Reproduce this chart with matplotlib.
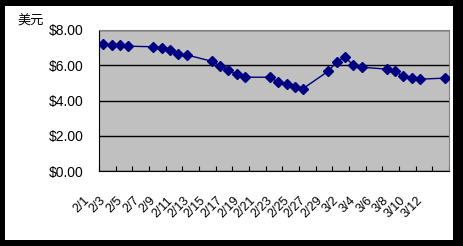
import numpy as np
import matplotlib
matplotlib.use("Agg")
import matplotlib.pyplot as plt
import matplotlib.dates as mdates
from matplotlib.patches import Rectangle
from matplotlib.transforms import ScaledTranslation

# trading days (year 2000) and closing price in US dollars
dates = ["2000-02-01", "2000-02-02", "2000-02-03", "2000-02-04",
         "2000-02-07", "2000-02-08", "2000-02-09", "2000-02-10", "2000-02-11",
         "2000-02-14", "2000-02-15", "2000-02-16", "2000-02-17", "2000-02-18",
         "2000-02-21", "2000-02-22", "2000-02-23", "2000-02-24", "2000-02-25",
         "2000-02-28", "2000-02-29", "2000-03-01", "2000-03-02", "2000-03-03",
         "2000-03-06", "2000-03-07", "2000-03-08", "2000-03-09", "2000-03-10",
         "2000-03-13"]
prices = [7.20, 7.14, 7.14, 7.08,
          7.05, 6.99, 6.88, 6.65, 6.59,
          6.23, 5.97, 5.72, 5.49, 5.32,
          5.32, 5.04, 4.93, 4.76, 4.68,
          5.66, 6.18, 6.46, 6.02, 5.89,
          5.78, 5.66, 5.38, 5.27, 5.21,
          5.27]
y_ticks = [0, 2, 4, 6, 8]
y_labels = ["$0.00", "$2.00", "$4.00", "$6.00", "$8.00"]
start, end = "2000-02-01", "2000-03-14"

W, H = 464, 246
fig = plt.figure(figsize=(W / 100, H / 100), dpi=100, facecolor="black")
fig.add_artist(Rectangle((5 / W, 1 - 240 / H), 448 / W, 234 / H,
                         transform=fig.transFigure, facecolor="white",
                         edgecolor="none", zorder=-10))

ax = fig.add_axes([99 / W, 1 - 171 / H, 350 / W, 141 / H])
ax.set_facecolor("#C0C0C0")

# points sit in the middle of each day slot
x = np.array(dates, dtype="datetime64[D]") + np.timedelta64(12, "h")
ax.plot(x, prices, color="#000080", lw=1, marker="D", ms=4.8,
        mec="#000080", mfc="#000080", zorder=3)

ax.set_xlim(np.datetime64(start), np.datetime64(end))
ax.set_ylim(0, 8)
ax.set_yticks(y_ticks)
ax.set_yticklabels(y_labels, fontsize=10, family="Liberation Sans")
ax.tick_params(axis="y", length=0, pad=11)
ax.grid(axis="y", color="black", lw=1)
ax.set_axisbelow(True)

# tick marks every two days, labels in the middle of each pair
edges = np.arange(np.datetime64(start), np.datetime64(end) + 1, 2)
mids = edges[:-1] + np.timedelta64(1, "D")
labs = [f"{int(str(d)[5:7])}/{int(str(d)[8:10])}" for d in edges[:-1]]
ax.set_xticks(mdates.date2num(edges), [""] * len(edges))
ax.set_xticks(mdates.date2num(mids), labs, minor=True)
ax.tick_params(axis="x", which="major", direction="in", length=3.5, width=0.8)
ax.tick_params(axis="x", which="minor", length=0, pad=17)

off = ScaledTranslation(-16 / 100, 0, fig.dpi_scale_trans)
for lab in ax.get_xticklabels(minor=True):
    lab.set_rotation(45)
    lab.set_ha("right")
    lab.set_va("top")
    lab.set_fontsize(9)
    lab.set_family("Liberation Sans")
    lab.set_transform(lab.get_transform() + off)

for s in ["left", "bottom"]:
    ax.spines[s].set_color("black")
for s in ["top", "right"]:
    ax.spines[s].set_color("#808080")

fig.text(17.7 / W, 1 - 21.5 / H, "美元", fontsize=9.5,
         family=["Noto Sans CJK SC", "DejaVu Sans"], ha="left", va="center")

fig.savefig("out.png", dpi=100, facecolor="black")
